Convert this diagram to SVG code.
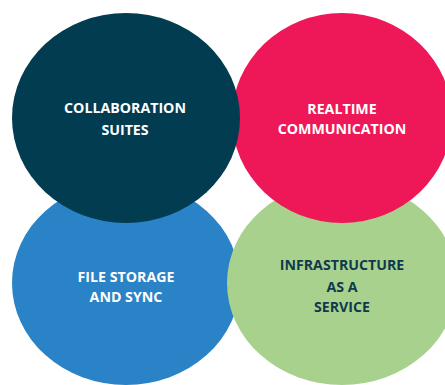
<svg xmlns="http://www.w3.org/2000/svg" width="445" height="385" viewBox="0 0 445 385">
<style>
.lbl{font-family:"Open Sans","Liberation Sans",sans-serif;font-weight:bold;font-size:14.2px;text-anchor:middle}
.w{fill:#ffffff}
.d{fill:#0f3a4c}
</style>
<rect width="445" height="385" fill="#ffffff"/>
<g id="file-storage">
<ellipse cx="126" cy="283" rx="114" ry="102" fill="#2a83c6"/>
<text class="lbl w" x="126" y="282">FILE STORAGE</text>
<text class="lbl w" x="126" y="302">AND SYNC</text>
</g>
<g id="infrastructure">
<ellipse cx="342" cy="283" rx="115" ry="102" fill="#a9d18e"/>
<text class="lbl d" x="342" y="270">INFRASTRUCTURE</text>
<text class="lbl d" x="342" y="292">AS A</text>
<text class="lbl d" x="342" y="312">SERVICE</text>
</g>
<g id="realtime">
<ellipse cx="342" cy="118" rx="110" ry="105" fill="#ee1858"/>
<text class="lbl w" x="342" y="114">REALTIME</text>
<text class="lbl w" x="342" y="134">COMMUNICATION</text>
</g>
<g id="collaboration">
<ellipse cx="126" cy="118" rx="114" ry="105" fill="#023c51"/>
<text class="lbl w" x="125" y="113">COLLABORATION</text>
<text class="lbl w" x="125" y="135">SUITES</text>
</g>
<g id="connectors"></g>
</svg>
